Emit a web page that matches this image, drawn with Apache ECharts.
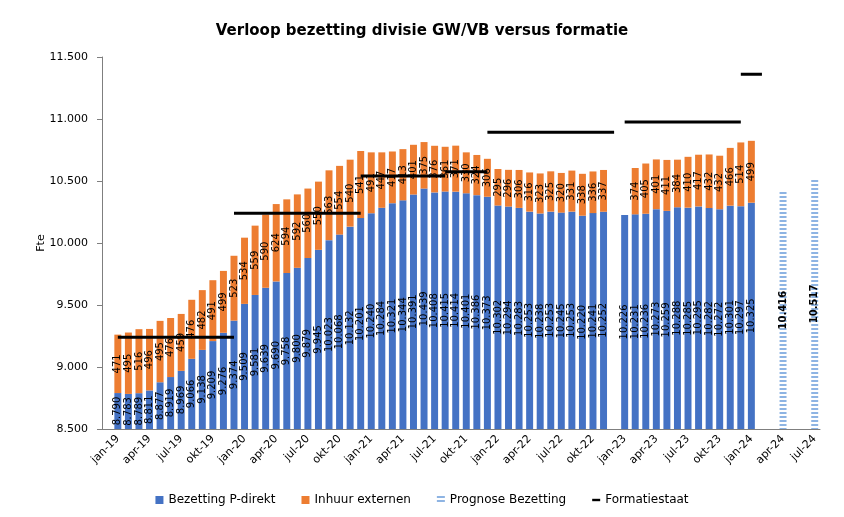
<!DOCTYPE html>
<html>
<head>
<meta charset="utf-8">
<script src="https://cdn.jsdelivr.net/npm/echarts@6/dist/echarts.min.js"></script>
<style>
  html, body { margin: 0; padding: 0; background: #fff; }
  #chart { width: 844px; height: 517px; }
</style>
</head>
<body>
<div id="chart"></div>
<script>
// maanden dec-18 t/m jul-24
var months = [
  'dec-18',
  'jan-19','feb-19','mrt-19','apr-19','mei-19','jun-19','jul-19','aug-19','sep-19','okt-19','nov-19','dec-19',
  'jan-20','feb-20','mrt-20','apr-20','mei-20','jun-20','jul-20','aug-20','sep-20','okt-20','nov-20','dec-20',
  'jan-21','feb-21','mrt-21','apr-21','mei-21','jun-21','jul-21','aug-21','sep-21','okt-21','nov-21','dec-21',
  'jan-22','feb-22','mrt-22','apr-22','mei-22','jun-22','jul-22','aug-22','sep-22','okt-22','nov-22','dec-22',
  'jan-23','feb-23','mrt-23','apr-23','mei-23','jun-23','jul-23','aug-23','sep-23','okt-23','nov-23','dec-23',
  'jan-24','feb-24','mrt-24','apr-24','mei-24','jun-24','jul-24'
];

var bezetting = [
  null,
  8790, 8783, 8789, 8811, 8877, 8919, 8969, 9066, 9138, 9209, 9276, 9374,
  9509, 9581, 9639, 9690, 9758, 9800, 9879, 9945, 10023, 10068, 10132, 10201,
  10240, 10284, 10321, 10344, 10391, 10439, 10408, 10415, 10414, 10401, 10386, 10373,
  10302, 10294, 10283, 10253, 10238, 10253, 10245, 10253, 10220, 10241, 10252, null,
  10226, 10231, 10236, 10273, 10259, 10288, 10285, 10295, 10282, 10272, 10301, 10297,
  10325, null, null, null, null, null, null
];

var inhuur = [
  null,
  471, 495, 516, 496, 495, 476, 459, 476, 482, 491, 499, 523,
  534, 559, 590, 624, 594, 592, 560, 550, 563, 554, 540, 541,
  491, 447, 417, 413, 401, 375, 376, 361, 371, 330, 324, 306,
  295, 296, 306, 316, 323, 325, 320, 331, 338, 336, 337, null,
  null, 374, 405, 401, 411, 384, 410, 417, 432, 432, 466, 514,
  499, null, null, null, null, null, null
];

var prognose = [
  null,
  null, null, null, null, null, null, null, null, null, null, null, null,
  null, null, null, null, null, null, null, null, null, null, null, null,
  null, null, null, null, null, null, null, null, null, null, null, null,
  null, null, null, null, null, null, null, null, null, null, null, null,
  null, null, null, null, null, null, null, null, null, null, null, null,
  null, null, null, 10416, null, null, 10517
];

// formatiestaat: lijnstukken van maand tot maand
var formVan = ['jan-19', 'dec-19', 'dec-20', 'aug-21', 'dec-21', 'jan-23', 'dec-23'];
var formTot = ['dec-19', 'dec-20', 'aug-21', 'dec-21', 'dec-22', 'dec-23', 'feb-24'];
var formWaarde = [9240, 10240, 10540, 10575, 10893, 10976, 11360];

var yTicks = ['8.500', '9.000', '9.500', '10.000', '10.500', '11.000', '11.500'];

function nl(v) {
  var s = String(v % 1000);
  while (s.length < 3) s = '0' + s;
  return Math.floor(v / 1000) + '.' + s;
}

// streeppatroon voor de prognose
var pat = document.createElement('canvas');
pat.width = 6; pat.height = 4;
var pc = pat.getContext('2d');
pc.fillStyle = '#fff'; pc.fillRect(0, 0, 6, 4);
pc.fillStyle = '#8eb4e3'; pc.fillRect(0, 0, 6, 2);

var font = 'DejaVu Sans';

var series = [
  {
    name: 'Bezetting P-direkt', type: 'bar', stack: 'a', data: bezetting,
    barWidth: '66%',
    itemStyle: { color: '#4472c4' },
    label: { show: true, position: 'inside', rotate: 90, fontSize: 10, fontFamily: font, color: '#000',
      formatter: function (p) { return nl(p.value); } }
  },
  {
    name: 'Inhuur externen', type: 'bar', stack: 'a', data: inhuur,
    itemStyle: { color: '#ed7d31' },
    label: { show: true, position: 'inside', rotate: 90, fontSize: 10, fontFamily: font, color: '#000' }
  },
  {
    name: 'Prognose Bezetting', type: 'bar', stack: 'a', data: prognose,
    itemStyle: { color: { image: pat, repeat: 'repeat' } },
    label: { show: true, position: 'inside', rotate: 90, fontSize: 10, fontFamily: font, color: '#000', fontWeight: 'bold',
      formatter: function (p) { return nl(p.value); } }
  }
];

for (var i = 0; i < formVan.length; i++) {
  var d = months.map(function () { return null; });
  var a = months.indexOf(formVan[i]), b = months.indexOf(formTot[i]);
  for (var k = a; k <= b; k++) d[k] = formWaarde[i];
  series.push({
    name: 'Formatiestaat', type: 'line', data: d, showSymbol: false, symbol: 'none',
    lineStyle: { color: '#000', width: 3 }, itemStyle: { color: '#000' }, z: 5
  });
}

var chart = echarts.init(document.getElementById('chart'));
chart.setOption({
  animation: false,
  textStyle: { fontFamily: font },
  title: {
    text: 'Verloop bezetting divisie GW/VB versus formatie',
    left: 'center', top: 19,
    textStyle: { fontSize: 15, fontWeight: 'bold', color: '#000', fontFamily: font }
  },
  legend: {
    bottom: 6, left: 'center', itemWidth: 8, itemHeight: 8, itemGap: 26,
    textStyle: { fontSize: 12, color: '#000', fontFamily: font },
    data: [
      { name: 'Bezetting P-direkt', icon: 'rect' },
      { name: 'Inhuur externen', icon: 'rect' },
      { name: 'Prognose Bezetting', icon: 'rect' },
      { name: 'Formatiestaat', icon: 'path://M0,3 L10,3 L10,6 L0,6 Z' }
    ]
  },
  grid: { left: 102, right: 24, top: 57, bottom: 88 },
  xAxis: {
    type: 'category', data: months,
    axisLine: { lineStyle: { color: '#7f7f7f' } },
    axisTick: { alignWithLabel: true, lineStyle: { color: '#7f7f7f' },
      interval: function (idx, v) { return idx > 0 && /^(mrt|jun|sep|dec)/.test(v); } },
    axisLabel: { rotate: 45, fontSize: 11, color: '#000', fontFamily: font, margin: 8,
      interval: function (idx, v) { return /^(jan|apr|jul|okt)/.test(v); } }
  },
  yAxis: {
    type: 'value', min: 8500, max: 11500, interval: 500,
    name: 'Fte', nameLocation: 'middle', nameGap: 55, nameRotate: 90, nameMoveOverlap: false,
    nameTextStyle: { fontSize: 11, color: '#000', fontFamily: font },
    axisLine: { show: true, lineStyle: { color: '#7f7f7f' } },
    axisTick: { show: true, length: 5, lineStyle: { color: '#7f7f7f' } },
    splitLine: { show: false },
    axisLabel: { fontSize: 11, color: '#000', fontFamily: font, margin: 14,
      formatter: function (v) { return yTicks[(v - 8500) / 500]; } }
  },
  series: series
});
</script>
</body>
</html>
